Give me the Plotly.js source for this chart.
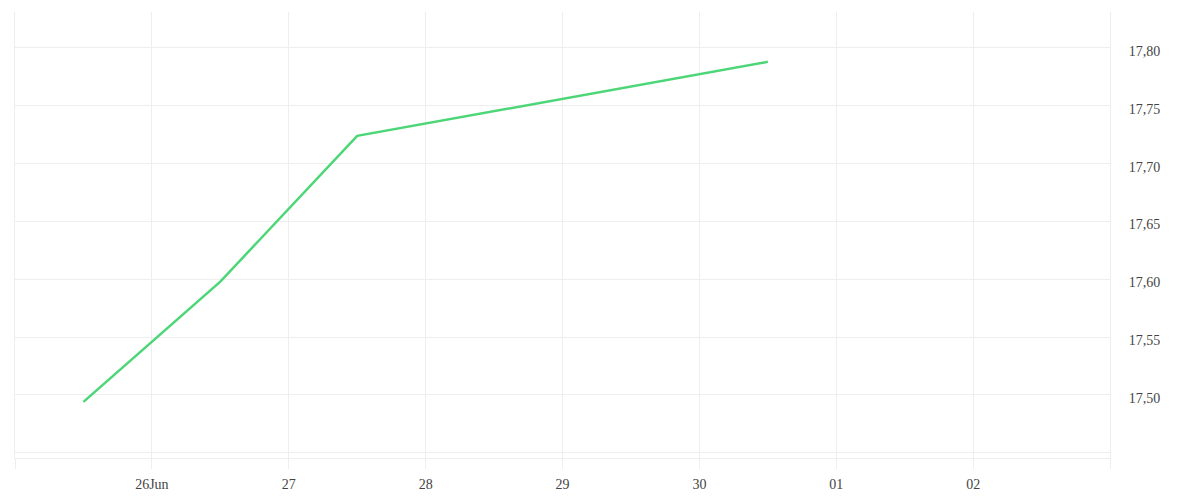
<!DOCTYPE html>
<html>
<head>
<meta charset="utf-8">
<script src="https://cdn.plot.ly/plotly-3.0.1.min.js"></script>
<style>html,body{margin:0;padding:0;background:#fff;}#chart{width:1200px;height:500px;}</style>
</head>
<body>
<div id="chart"></div>
<script>
const dates = ["2025-06-25 12:00", "2025-06-26 12:00", "2025-06-27 12:00", "2025-06-30 12:00"];
const values = [17.494, 17.598, 17.724, 17.788];
const tickDates = ["2025-06-25", "2025-06-26", "2025-06-27", "2025-06-28", "2025-06-29", "2025-06-30", "2025-07-01", "2025-07-02", "2025-07-03"];
const tickLabels = ["", "26Jun", "27", "28", "29", "30", "01", "02", ""];
const yTicks = [17.45, 17.50, 17.55, 17.60, 17.65, 17.70, 17.75, 17.80];
const yLabels = ["", "17,50", "17,55", "17,60", "17,65", "17,70", "17,75", "17,80"];

const trace = {
  x: dates, y: values, type: 'scatter', mode: 'lines',
  line: {color: '#4cd677', width: 2.5},
  hoverinfo: 'x+y'
};
const layout = {
  width: 1200, height: 500,
  margin: {l: 15, r: 90, t: 12, b: 42},
  paper_bgcolor: '#fff', plot_bgcolor: '#fff',
  showlegend: false,
  separators: ',.',
  font: {family: '"Liberation Serif", "DejaVu Serif", serif', size: 14, color: '#444'},
  xaxis: {
    type: 'date',
    range: ["2025-06-25", "2025-07-03"],
    tickmode: 'array', tickvals: tickDates, ticktext: tickLabels,
    showgrid: true, gridcolor: '#eeeeee', gridwidth: 1,
    ticks: 'outside', ticklen: 10, tickcolor: '#eeeeee', tickwidth: 1,
    showline: true, linecolor: '#eeeeee', linewidth: 1,
    zeroline: false,
    ticklabelstandoff: 3,
    tickfont: {size: 14, color: '#444'}
  },
  yaxis: {
    side: 'right',
    range: [17.4455, 17.8311],
    tickmode: 'array', tickvals: yTicks, ticktext: yLabels,
    showgrid: true, gridcolor: '#eeeeee', gridwidth: 1,
    ticks: '', ticklabelstandoff: 15, ticklabelshift: 3,
    showline: true, mirror: true, linecolor: '#eeeeee', linewidth: 1,
    zeroline: false,
    tickfont: {size: 14, color: '#444'}
  }
};
Plotly.newPlot('chart', [trace], layout, {displayModeBar: false, staticPlot: true});
</script>
</body>
</html>
